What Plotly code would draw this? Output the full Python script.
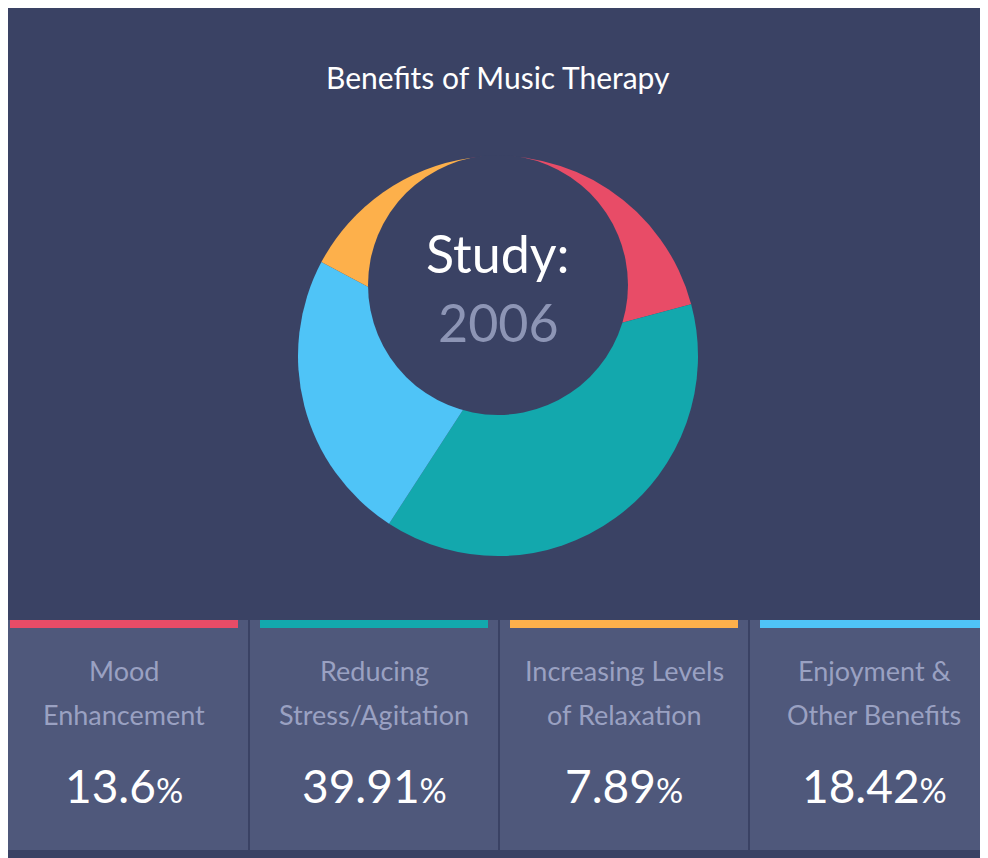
import plotly.graph_objects as go

W, H = 988, 858
BG = "#3a4264"
CARD = "#4f587b"
OFF = 8  # page body margin offset

labels = ["Mood Enhancement", "Reducing Stress/Agitation", "Increasing Levels of Relaxation", "Enjoyment & Other Benefits"]
title_line1 = ["Mood", "Reducing", "Increasing Levels", "Enjoyment &"]
title_line2 = ["Enhancement", "Stress/Agitation", "of Relaxation", "Other Benefits"]
percents = ["13.6", "39.91", "7.89", "18.42"]
colors = ["#e84c67", "#13a8ad", "#fdb04b", "#4fc4f7"]

# slice arcs as drawn in the picture (degrees), clockwise from the top
pie_labels = ["Mood Enhancement", "Reducing Stress/Agitation", "Enjoyment & Other Benefits", "Increasing Levels of Relaxation"]
pie_arcs = [83, 138, 85, 54]
pie_colors = ["#e84c67", "#13a8ad", "#4fc4f7", "#fdb04b"]


def px(x):
    return (x - OFF) / W


def py(y):
    return 1 - (y - OFF) / H


fig = go.Figure()
fig.add_trace(go.Pie(
    labels=pie_labels, values=pie_arcs, sort=False, direction="clockwise",
    rotation=-8, marker=dict(colors=pie_colors, line=dict(width=0)),
    textinfo="none", hoverinfo="label", showlegend=False,
    domain=dict(x=[px(298), px(698)], y=[py(556), py(156)]),
))

shapes = []
# offset hole
shapes.append(dict(type="circle", xref="paper", yref="paper",
                   x0=px(368), x1=px(628), y0=py(415), y1=py(155),
                   fillcolor=BG, line=dict(width=0), layer="above"))
# cards
for i in range(4):
    x0 = i * 250
    shapes.append(dict(type="rect", xref="paper", yref="paper",
                       x0=px(x0), x1=px(x0 + 248), y0=py(850), y1=py(620),
                       fillcolor=CARD, line=dict(width=0), layer="below"))
    shapes.append(dict(type="rect", xref="paper", yref="paper",
                       x0=px(x0 + 10), x1=px(x0 + 238), y0=py(628), y1=py(620),
                       fillcolor=colors[i], line=dict(width=0), layer="below"))

annotations = [
    dict(text="Benefits of Music Therapy", x=px(498), y=py(77), font=dict(size=30, color="white")),
    dict(text="Study:", x=px(498), y=py(253), font=dict(size=52, color="white")),
    dict(text="2006", x=px(498), y=py(322), font=dict(size=52, color="#8d95b5")),
]
for i in range(4):
    cx = px(i * 250 + 124)
    annotations.append(dict(text=title_line1[i], x=cx, y=py(670), font=dict(size=27, color="#9aa1c2")))
    annotations.append(dict(text=title_line2[i], x=cx, y=py(714), font=dict(size=27, color="#9aa1c2")))
    annotations.append(dict(text=percents[i] + "<span style='font-size:34px'>%</span>",
                            x=cx, y=py(785), font=dict(size=46, color="white")))
for a in annotations:
    a.update(xref="paper", yref="paper", showarrow=False, xanchor="center", yanchor="middle")

fig.update_layout(
    width=W, height=H, margin=dict(l=0, r=0, t=0, b=0),
    paper_bgcolor=BG, plot_bgcolor=BG,
    font=dict(family="Lato, sans-serif"),
    shapes=shapes, annotations=annotations,
)
fig.write_html("out.html")
